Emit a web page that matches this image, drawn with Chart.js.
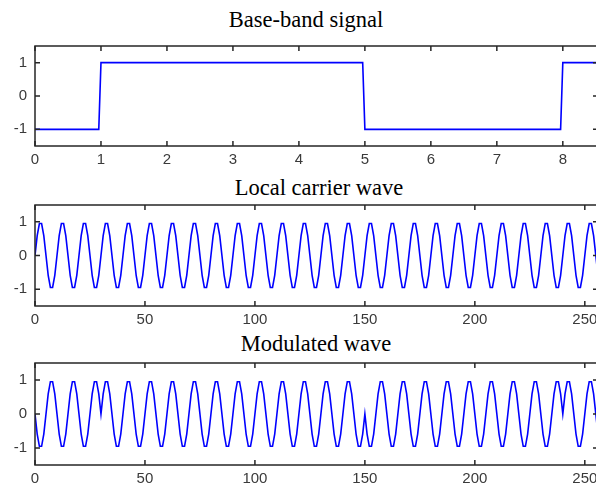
<!DOCTYPE html>
<html>
<head>
<meta charset="utf-8">
<script src="https://cdn.jsdelivr.net/npm/chart.js@4"></script>
<style>
    body { margin: 0; background: #fff; width: 596px; height: 486px; overflow: hidden; position: relative; }
    .plot { position: absolute; left: 0; }
    .title {
        position: absolute; width: 300px; text-align: center; white-space: nowrap;
        font-family: "Liberation Serif", "Times New Roman", serif; font-size: 22.5px; line-height: 1; color: #000;
    }
</style>
</head>
<body>
<div class="title" style="left:156px; top:9px;">Base-band signal</div>
<canvas id="baseband" class="plot" width="600" height="125" style="top:41px;"></canvas>
<div class="title" style="left:169px; top:177px;">Local carrier wave</div>
<canvas id="carrier" class="plot" width="600" height="126" style="top:200px;"></canvas>
<div class="title" style="left:166px; top:333px;">Modulated wave</div>
<canvas id="modulated" class="plot" width="600" height="127" style="top:358px;"></canvas>

<script>
// values
const bitLevels = [-1, 1, 1, 1, 1, -1, -1, -1, 1];
const samplesPerBit = 30;
const carrierCycle = [0, 0.59, 0.95, 0.95, 0.59, 0, -0.59, -0.95, -0.95, -0.59];
const sampleCount = 257;

const basebandTicks = [0, 1, 2, 3, 4, 5, 6, 7, 8];
const sampleTicks = [0, 50, 100, 150, 200, 250];
const levelTicks = [-1, 0, 1];

// baseband: each bit held for its samples, last sample jumps to the next bit
const basebandPts = [];
bitLevels.forEach((v, i) => {
    basebandPts.push({ x: i, y: v });
    basebandPts.push({ x: i + (samplesPerBit - 1) / samplesPerBit, y: v });
});

const carrierPts = [];
const modulatedPts = [];
for (let n = 0; n < sampleCount; n++) {
    const c = carrierCycle[n % carrierCycle.length];
    carrierPts.push({ x: n, y: c });
    modulatedPts.push({ x: n, y: bitLevels[Math.floor(n / samplesPerBit)] * c });
}

// matlab style box with inward ticks
const matlabBox = {
    id: 'matlabBox',
    afterDraw(chart) {
        const { ctx, chartArea: a, scales: { x, y } } = chart;
        ctx.save();
        ctx.strokeStyle = '#262626';
        ctx.lineWidth = 1.5;
        ctx.strokeRect(a.left, a.top, a.right - a.left, a.bottom - a.top);
        ctx.beginPath();
        x.ticks.forEach(t => {
            const px = x.getPixelForValue(t.value);
            ctx.moveTo(px, a.top); ctx.lineTo(px, a.top + 5);
            ctx.moveTo(px, a.bottom); ctx.lineTo(px, a.bottom - 5);
        });
        y.ticks.forEach(t => {
            const py = y.getPixelForValue(t.value);
            ctx.moveTo(a.left, py); ctx.lineTo(a.left + 5, py);
            ctx.moveTo(a.right, py); ctx.lineTo(a.right - 5, py);
        });
        ctx.stroke();
        ctx.restore();
    }
};

function makePlot(id, pts, xMax, xTicks) {
    const tickFont = { family: 'Liberation Sans, Arial, sans-serif', size: 15 };
    return new Chart(document.getElementById(id), {
        type: 'line',
        data: {
            datasets: [{
                data: pts,
                borderColor: '#0000ff',
                borderWidth: 1.6,
                pointRadius: 0,
                tension: 0,
                fill: false
            }]
        },
        options: {
            responsive: false,
            animation: false,
            layout: { padding: { top: 5, right: 2, left: 0, bottom: 0 } },
            plugins: { legend: { display: false }, tooltip: { enabled: false } },
            scales: {
                x: {
                    type: 'linear', min: 0, max: xMax,
                    grid: { display: false, drawTicks: false },
                    border: { display: false },
                    afterBuildTicks: s => { s.ticks = xTicks.map(v => ({ value: v })); },
                    afterFit: s => { s.height = 20; s.paddingLeft = 0; s.paddingRight = 0; },
                    ticks: { autoSkip: false, maxRotation: 0, padding: 5, color: '#3a3a3a', font: tickFont }
                },
                y: {
                    min: -1.5, max: 1.5,
                    grid: { display: false, drawTicks: false },
                    border: { display: false },
                    afterBuildTicks: s => { s.ticks = levelTicks.map(v => ({ value: v })); },
                    afterFit: s => { s.width = 35; s.paddingTop = 0; s.paddingBottom = 0; },
                    ticks: { padding: 8, color: '#3a3a3a', font: tickFont }
                }
            }
        },
        plugins: [matlabBox]
    });
}

makePlot('baseband', basebandPts, (sampleCount - 1) / samplesPerBit, basebandTicks);
makePlot('carrier', carrierPts, sampleCount - 1, sampleTicks);
makePlot('modulated', modulatedPts, sampleCount - 1, sampleTicks);
</script>
</body>
</html>
